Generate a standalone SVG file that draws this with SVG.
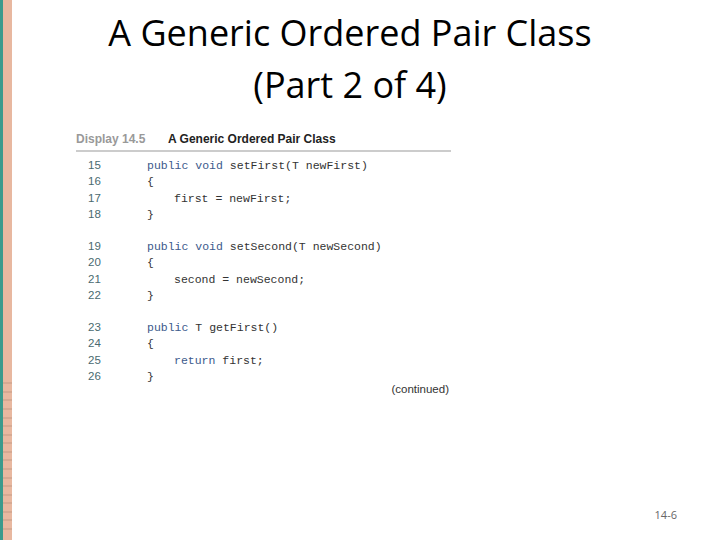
<svg xmlns="http://www.w3.org/2000/svg" width="720" height="540" viewBox="0 0 720 540">
<style>
.t{font-family:"Open Sans","Liberation Sans",sans-serif;font-size:36px;fill:#000;text-anchor:middle}
.n{font-family:"Liberation Sans",sans-serif;font-size:11.5px;fill:#4a6a70}
.c{font-family:"Liberation Mono",monospace;font-size:11.5px;fill:#333}
.k{fill:#3c5a8c}
.h{font-family:"Liberation Sans",sans-serif;font-size:12px;font-weight:bold}
</style>
<rect width="720" height="540" fill="#fff"/>
<g id="stripe">
<rect x="0" y="0" width="3" height="540" fill="#3a9a8c"/>
<rect x="3" y="0" width="9" height="540" fill="#e8b8a0"/>
<g stroke="#c49a84" stroke-width="1">
<path d="M3 383H12M3 392H12M3 400H12M3 409H12M3 418H12M3 426H12M3 435H12M3 443H12M3 452H12M3 460H12M3 469H12M3 478H12M3 486H12M3 495H12M3 503H12M3 512H12M3 520H12M3 529H12"/>
</g>
</g>
<g id="title">
<text class="t" x="350" y="46">A Generic Ordered Pair Class</text>
<text class="t" x="350" y="98">(Part 2 of 4)</text>
</g>
<g id="header">
<text class="h" x="76" y="143" fill="#999">Display 14.5</text>
<text class="h" x="168" y="143" fill="#222">A Generic Ordered Pair Class</text>
<line x1="76" y1="151" x2="451" y2="151" stroke="#999" stroke-width="1"/>
</g>
<g id="code">
<text class="n" x="88" y="169">15</text><text class="c" x="147" y="169"><tspan class="k">public void</tspan> setFirst(T newFirst)</text>
<text class="n" x="88" y="185">16</text><text class="c" x="147" y="185">{</text>
<text class="n" x="88" y="202">17</text><text class="c" x="174" y="202">first = newFirst;</text>
<text class="n" x="88" y="218">18</text><text class="c" x="147" y="218">}</text>
<text class="n" x="88" y="250">19</text><text class="c" x="147" y="250"><tspan class="k">public void</tspan> setSecond(T newSecond)</text>
<text class="n" x="88" y="266">20</text><text class="c" x="147" y="266">{</text>
<text class="n" x="88" y="283">21</text><text class="c" x="174" y="283">second = newSecond;</text>
<text class="n" x="88" y="299">22</text><text class="c" x="147" y="299">}</text>
<text class="n" x="88" y="331">23</text><text class="c" x="147" y="331"><tspan class="k">public</tspan> T getFirst()</text>
<text class="n" x="88" y="347">24</text><text class="c" x="147" y="347">{</text>
<text class="n" x="88" y="364">25</text><text class="c" x="174" y="364"><tspan class="k">return</tspan> first;</text>
<text class="n" x="88" y="380">26</text><text class="c" x="147" y="380">}</text>
<text x="449" y="393" font-family="Liberation Sans,sans-serif" font-size="11.5" fill="#333" text-anchor="end">(continued)</text>
</g>
<text x="677" y="519" font-family="Open Sans,Liberation Sans,sans-serif" font-size="11" fill="#666" text-anchor="end">14-6</text>
</svg>
